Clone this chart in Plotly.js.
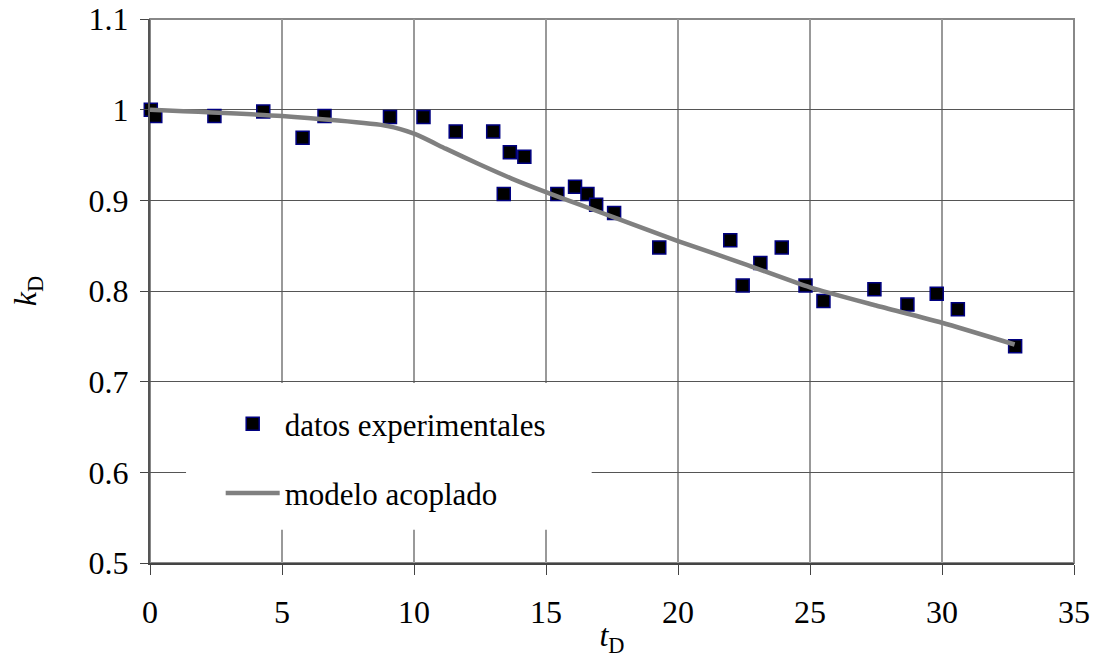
<!DOCTYPE html>
<html>
<head>
<meta charset="utf-8">
<script src="https://cdn.plot.ly/plotly-3.0.1.min.js"></script>
<style>
  html, body { margin: 0; padding: 0; background: #fff; }
  #grafico { width: 1095px; height: 658px; }
</style>
</head>
<body>
<div id="grafico"></div>
<script>
const tExp = [0.03, 0.2, 2.44, 4.29, 5.78, 6.61, 9.09, 10.36, 11.58, 13.0,
  13.4, 13.63, 14.18, 15.43, 16.1, 16.57, 16.9, 17.58, 19.29, 21.98,
  22.45, 23.12, 23.93, 24.83, 25.51, 27.44, 28.69, 29.8, 30.6, 32.77];
const kExp = [1.0, 0.993, 0.993, 0.998, 0.969, 0.993, 0.992, 0.992, 0.976, 0.976,
  0.907, 0.953, 0.948, 0.907, 0.915, 0.907, 0.895, 0.886, 0.848, 0.856,
  0.806, 0.831, 0.848, 0.806, 0.789, 0.802, 0.785, 0.797, 0.78, 0.739];

// modelo acoplado
const tModelo = [0, 5, 9, 10, 11.2, 12.45, 13.7, 15, 16.2, 17.5, 20, 22.5, 25, 27.5, 30, 32.75];
const kModelo = [1.0, 0.993, 0.982, 0.9735, 0.957, 0.94, 0.924, 0.909, 0.896, 0.882, 0.855, 0.83, 0.804, 0.784, 0.765, 0.741];

// marcas de los ejes
const xTicks = [0, 5, 10, 15, 20, 25, 30, 35];
const yTicks = [0.5, 0.6, 0.7, 0.8, 0.9, 1.0, 1.1];
const yTickText = ["0.5", "0.6", "0.7", "0.8", "0.9", "1", "1.1"];

const fuente = "Liberation Serif, Times New Roman, serif";

const trazas = [
  {
    x: tExp,
    y: kExp,
    mode: "markers",
    name: "datos experimentales",
    legendgroup: "a",
    cliponaxis: false,
    marker: { symbol: "square", size: 13, color: "#000000", line: { color: "#000080", width: 1.5 } },
    hoverinfo: "x+y",
  },
  {
    x: tModelo,
    y: kModelo,
    mode: "lines",
    name: "modelo acoplado",
    legendgroup: "b",
    line: { color: "#808080", width: 4.5, shape: "spline", smoothing: 0.6 },
    hoverinfo: "x+y",
  },
];

const layout = {
  width: 1095,
  height: 658,
  margin: { l: 150, r: 21, t: 19, b: 95 },
  paper_bgcolor: "#ffffff",
  plot_bgcolor: "#ffffff",
  font: { family: fuente, size: 32, color: "#000000" },
  showlegend: true,
  legend: {
    x: 0.0765, y: 0.305, xanchor: "left", yanchor: "top",
    bgcolor: "#ffffff",
    borderwidth: 0,
    itemwidth: 54,
    tracegroupgap: 26,
    traceorder: "grouped",
    font: { family: fuente, size: 31, color: "#000000" },
  },
  xaxis: {
    range: [0, 35],
    tickvals: xTicks,
    ticktext: xTicks.map(String),
    showgrid: true,
    gridcolor: "#999999",
    gridwidth: 2,
    zeroline: false,
    showline: true,
    linecolor: "#444444",
    linewidth: 2,
    ticks: "outside",
    ticklen: 10,
    tickcolor: "#444444",
    tickwidth: 1,
    ticklabelstandoff: 10,
    tickfont: { family: fuente, size: 32 },
    title: { text: "<i>t</i><sub>D</sub>", font: { family: fuente, size: 32 }, standoff: 4 },
  },
  yaxis: {
    range: [0.5, 1.1],
    tickvals: yTicks,
    ticktext: yTickText,
    showgrid: true,
    gridcolor: "#555555",
    gridwidth: 1,
    zeroline: false,
    showline: true,
    linecolor: "#555555",
    linewidth: 2,
    ticks: "outside",
    ticklen: 8,
    tickcolor: "#444444",
    tickwidth: 1,
    ticklabelstandoff: 5,
    tickfont: { family: fuente, size: 32 },
    title: { text: "<i>k</i><sub>D</sub>", font: { family: fuente, size: 32 }, standoff: 42 },
  },
  shapes: [
    // recuadro blanco de la leyenda (tapa la cuadrícula)
    {
      type: "rect", xref: "paper", yref: "paper", layer: "above",
      x0: 0.039, x1: 0.478, y0: 0.061, y1: 0.331,
      fillcolor: "#ffffff", line: { width: 0 },
    },
    // borde superior y derecho del área de trazado
    {
      type: "rect", xref: "paper", yref: "paper", layer: "between",
      x0: 0, x1: 1, y0: 0, y1: 1,
      fillcolor: "rgba(0,0,0,0)", line: { color: "#888888", width: 2 },
    },
  ],
};

Plotly.newPlot("grafico", trazas, layout, { displayModeBar: false, staticPlot: true });
</script>
</body>
</html>
